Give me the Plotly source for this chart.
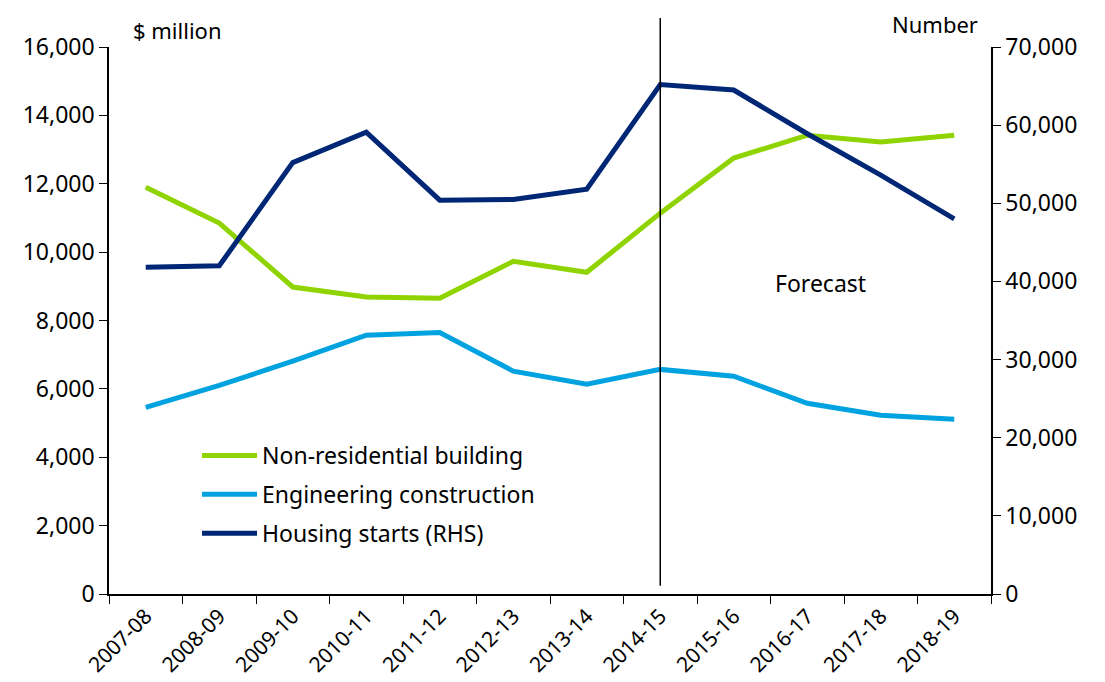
import plotly.graph_objects as go

categories = ["2007-08", "2008-09", "2009-10", "2010-11", "2011-12", "2012-13",
              "2013-14", "2014-15", "2015-16", "2016-17", "2017-18", "2018-19"]
non_residential = [11900, 10850, 8980, 8690, 8650, 9730, 9410, 11140, 12750, 13420, 13220, 13420]
engineering = [5460, 6100, 6810, 7570, 7650, 6520, 6140, 6570, 6370, 5580, 5230, 5110]
housing_starts = [41800, 42000, 55200, 59100, 50400, 50500, 51800, 65200, 64500, 58900, 53600, 48000]

left_ticks = [0, 2000, 4000, 6000, 8000, 10000, 12000, 14000, 16000]
right_ticks = [0, 10000, 20000, 30000, 40000, 50000, 60000, 70000]

GREEN = "#8FD400"
BLUE = "#00A3E0"
NAVY = "#002776"
FONT = "Noto Sans"

fig = go.Figure()
fig.add_trace(go.Scatter(x=categories, y=non_residential, mode="lines", legendgroup="a",
                         name="Non-residential building", line=dict(color=GREEN, width=5)))
fig.add_trace(go.Scatter(x=categories, y=engineering, mode="lines", legendgroup="b",
                         name="Engineering construction", line=dict(color=BLUE, width=5)))
fig.add_trace(go.Scatter(x=categories, y=housing_starts, mode="lines", legendgroup="c",
                         name="Housing starts (RHS)", line=dict(color=NAVY, width=5), yaxis="y2"))

fig.update_layout(
    width=1097, height=674,
    margin=dict(l=101, r=114, t=39, b=88),
    paper_bgcolor="white", plot_bgcolor="white",
    font=dict(family=FONT, size=23, color="black"),
    showlegend=True,
    legend=dict(x=0.0998, y=0.2925, xanchor="left", yanchor="top",
                bgcolor="rgba(0,0,0,0)", font=dict(size=23),
                itemwidth=55, tracegroupgap=6),
    xaxis=dict(type="category", tickson="boundaries", ticks="outside", ticklen=8,
               tickcolor="black", showline=True, linecolor="black", linewidth=1.5,
               showgrid=False, tickangle=-45, tickfont=dict(size=21), range=[-0.5, 11.5],
               automargin=False),
    yaxis=dict(range=[0, 16000], tickvals=left_ticks, tickformat=",d", ticks="outside",
               ticklen=8, tickcolor="black", showline=True, linecolor="black", linewidth=1.5,
               showgrid=False, zeroline=False, tickfont=dict(size=23), automargin=False),
    yaxis2=dict(range=[0, 70000], tickvals=right_ticks, tickformat=",d", ticks="outside",
                ticklen=8, tickcolor="black", showline=True, linecolor="black", linewidth=1.5,
                showgrid=False, zeroline=False, overlaying="y", side="right",
                tickfont=dict(size=23), automargin=False),
    shapes=[dict(type="line", xref="x", yref="paper", x0="2014-15", x1="2014-15",
                 y0=0.015, y1=1.053, line=dict(color="black", width=1.5))],
    annotations=[
        dict(text="$ million", xref="paper", yref="paper", x=0.025, y=1.031,
             xanchor="left", yanchor="middle", showarrow=False, font=dict(size=22)),
        dict(text="Number", xref="paper", yref="paper", x=0.987, y=1.042,
             xanchor="right", yanchor="middle", showarrow=False, font=dict(size=22)),
        dict(text="Forecast", xref="paper", yref="paper", x=0.807, y=0.569,
             xanchor="center", yanchor="middle", showarrow=False, font=dict(size=23)),
    ],
)

fig.write_html("out.html")
